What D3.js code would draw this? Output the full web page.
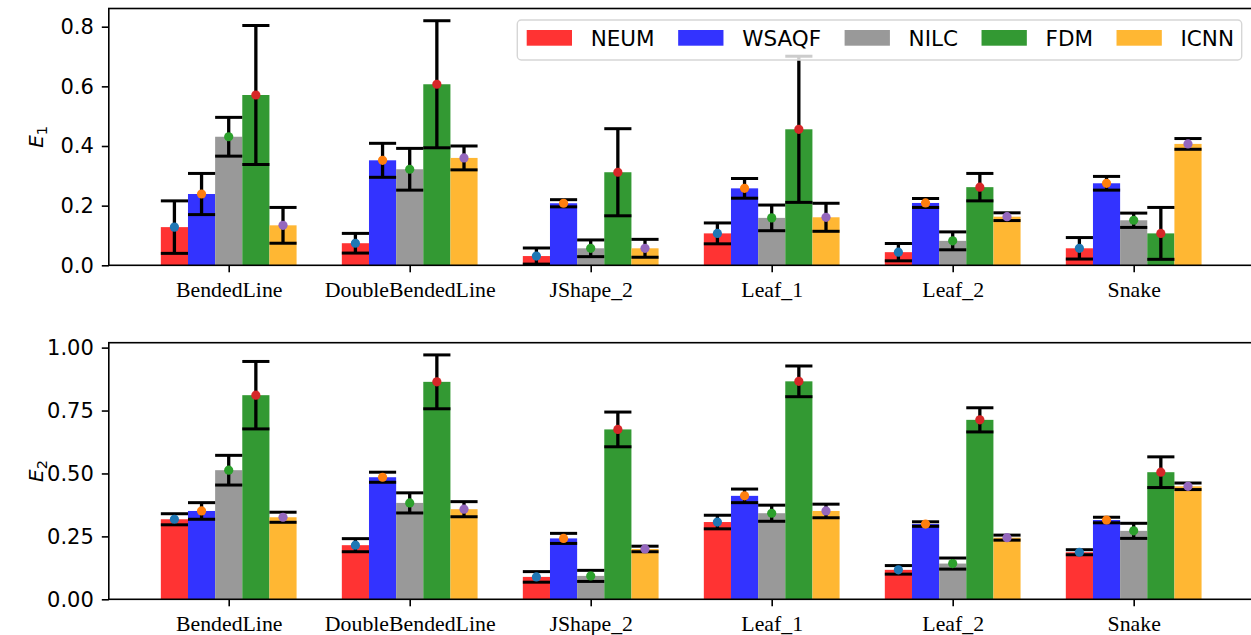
<!DOCTYPE html>
<html><head><meta charset="utf-8">
<script src="https://cdn.jsdelivr.net/npm/d3@7"></script>
<style>
html,body{margin:0;padding:0;background:#fff;}
svg{display:block;}
</style></head>
<body>
<svg id="chart" width="1251" height="635"></svg>
<script>
const categories = ["BendedLine","DoubleBendedLine","JShape_2","Leaf_1","Leaf_2","Snake"];
const methods = ["NEUM","WSAQF","NILC","FDM","ICNN"];
const barColors = ["#ff3333","#3333ff","#999999","#339933","#ffb733"];
const dotColors = ["#1f77b4","#ff7f0e","#2ca02c","#d62728","#9467bd"];

// E1 means and errors, one array per method (over categories)
const e1NEUM  = [0.128,0.074,0.031,0.107,0.044,0.057];
const e1WSAQF = [0.239,0.352,0.208,0.258,0.209,0.275];
const e1NILC  = [0.431,0.322,0.057,0.159,0.082,0.151];
const e1FDM   = [0.571,0.607,0.312,0.456,0.262,0.107];
const e1ICNN  = [0.134,0.360,0.057,0.161,0.163,0.407];
const e1ErrNEUM  = [0.088,0.033,0.027,0.035,0.029,0.036];
const e1ErrWSAQF = [0.069,0.057,0.012,0.033,0.015,0.023];
const e1ErrNILC  = [0.065,0.070,0.028,0.043,0.030,0.024];
const e1ErrFDM   = [0.233,0.213,0.146,0.245,0.046,0.087];
const e1ErrICNN  = [0.060,0.040,0.030,0.047,0.013,0.018];

// E2
const e2NEUM  = [0.318,0.215,0.089,0.307,0.117,0.187];
const e2WSAQF = [0.351,0.485,0.242,0.411,0.299,0.315];
const e2NILC  = [0.513,0.383,0.093,0.342,0.142,0.272];
const e2FDM   = [0.811,0.864,0.675,0.866,0.713,0.505];
const e2ICNN  = [0.326,0.358,0.200,0.351,0.245,0.449];
const e2ErrNEUM  = [0.022,0.026,0.021,0.027,0.017,0.010];
const e2ErrWSAQF = [0.033,0.020,0.020,0.027,0.009,0.011];
const e2ErrNILC  = [0.059,0.040,0.022,0.032,0.022,0.030];
const e2ErrFDM   = [0.134,0.107,0.069,0.061,0.048,0.061];
const e2ErrICNN  = [0.020,0.030,0.011,0.027,0.010,0.013];

const yTicks1 = [0.0,0.2,0.4,0.6,0.8];
const yTicks2 = [0.00,0.25,0.50,0.75,1.00];

const svg = d3.select("#chart");
const nCat = categories.length, nM = methods.length;
const barW = 0.15;
const x = d3.scaleLinear().domain([-0.6625, nCat - 1 + 0.6625]).range([108.8, 1253.6]);

function drawPanel(opts) {
  const {top, bottom, means, errs, ticks, fmt, sub} = opts;
  let maxV = 0;
  means.forEach((m, j) => m.forEach((v, i) => { maxV = Math.max(maxV, v + errs[j][i]); }));
  const y = d3.scaleLinear().domain([0, maxV * 1.05]).range([bottom, top]);
  const g = svg.append("g");
  // bars
  means.forEach((m, j) => {
    g.selectAll(null).data(m).enter().append("rect")
      .attr("x", (d, i) => x(i + (j - 2) * barW - barW / 2))
      .attr("width", x(barW) - x(0))
      .attr("y", d => y(d))
      .attr("height", d => y(0) - y(d))
      .attr("fill", barColors[j]);
  });
  // error bars
  const capHalf = (x(barW) - x(0)) / 2;
  means.forEach((m, j) => {
    m.forEach((v, i) => {
      const cx = x(i + (j - 2) * barW);
      const e = errs[j][i];
      const lo = y(v - e), hi = y(v + e);
      g.append("line").attr("x1", cx).attr("x2", cx).attr("y1", lo).attr("y2", hi)
        .attr("stroke", "#000").attr("stroke-width", 3.3);
      [lo, hi].forEach(yy => g.append("line").attr("x1", cx - capHalf).attr("x2", cx + capHalf)
        .attr("y1", yy).attr("y2", yy).attr("stroke", "#000").attr("stroke-width", 3));
    });
  });
  // dots
  means.forEach((m, j) => {
    g.selectAll(null).data(m).enter().append("circle")
      .attr("cx", (d, i) => x(i + (j - 2) * barW))
      .attr("cy", d => y(d)).attr("r", 4.6).attr("fill", dotColors[j]);
  });
  // axes
  const yAxis = d3.axisLeft(y).tickValues(ticks).tickFormat(d3.format(fmt)).tickSize(7).tickPadding(8);
  const ya = svg.append("g").attr("transform", `translate(${x.range()[0]},0)`).call(yAxis);
  ya.selectAll("text").style("font-family", "'DejaVu Sans', sans-serif").style("font-size", "21px").attr("fill", "#000");
  ya.selectAll("line").attr("stroke", "#000").attr("stroke-width", 1.6);
  ya.select(".domain").remove();
  const xAxis = d3.axisBottom(x).tickValues(d3.range(nCat)).tickFormat(i => categories[i]).tickSize(7).tickPadding(9);
  const xa = svg.append("g").attr("transform", `translate(0,${bottom})`).call(xAxis);
  xa.selectAll("text").style("font-family", "'Liberation Serif', 'Times New Roman', serif").style("font-size", "21.8px").attr("fill", "#000");
  xa.selectAll("line").attr("stroke", "#000").attr("stroke-width", 1.6);
  xa.select(".domain").remove();
  // spines
  const sp = svg.append("g").attr("stroke", "#000").attr("stroke-width", 1.6).attr("fill", "none");
  sp.append("rect").attr("x", x.range()[0]).attr("y", top).attr("width", x.range()[1] - x.range()[0]).attr("height", bottom - top);
  // y label
  const lab = svg.append("text")
    .attr("transform", `translate(42.5,${(top + bottom) / 2}) rotate(-90)`)
    .attr("text-anchor", "middle")
    .style("font-family", "'DejaVu Sans', sans-serif").style("font-size", "20px");
  lab.append("tspan").text("E").style("font-style", "italic");
  lab.append("tspan").text(sub).attr("dy", 4.5).style("font-size", "14.5px");
  return y;
}

drawPanel({top: 8.5, bottom: 265.3,
  means: [e1NEUM, e1WSAQF, e1NILC, e1FDM, e1ICNN],
  errs: [e1ErrNEUM, e1ErrWSAQF, e1ErrNILC, e1ErrFDM, e1ErrICNN],
  ticks: yTicks1, fmt: ".1f", sub: "1"});
drawPanel({top: 342.7, bottom: 599.3,
  means: [e2NEUM, e2WSAQF, e2NILC, e2FDM, e2ICNN],
  errs: [e2ErrNEUM, e2ErrWSAQF, e2ErrNILC, e2ErrFDM, e2ErrICNN],
  ticks: yTicks2, fmt: ".2f", sub: "2"});

// legend
const lg = svg.append("g");
const box = lg.append("rect").attr("x", 517.3).attr("y", 20).attr("width", 724.4).attr("height", 40)
  .attr("rx", 4).attr("fill", "#fff").attr("fill-opacity", 0.8).attr("stroke", "#d6d6d6").attr("stroke-width", 1.4);
let lx = 526.7;
methods.forEach((m, j) => {
  lg.append("rect").attr("x", lx).attr("y", 30).attr("width", 45.3).attr("height", 15.7).attr("fill", barColors[j]);
  const t = lg.append("text").attr("x", lx + 64).attr("y", 46).text(m)
    .style("font-family", "'DejaVu Sans', sans-serif").style("font-size", "21.5px").attr("fill", "#000");
  lx = lx + 64 + t.node().getComputedTextLength() + 23.5;
});
</script>
</body></html>
